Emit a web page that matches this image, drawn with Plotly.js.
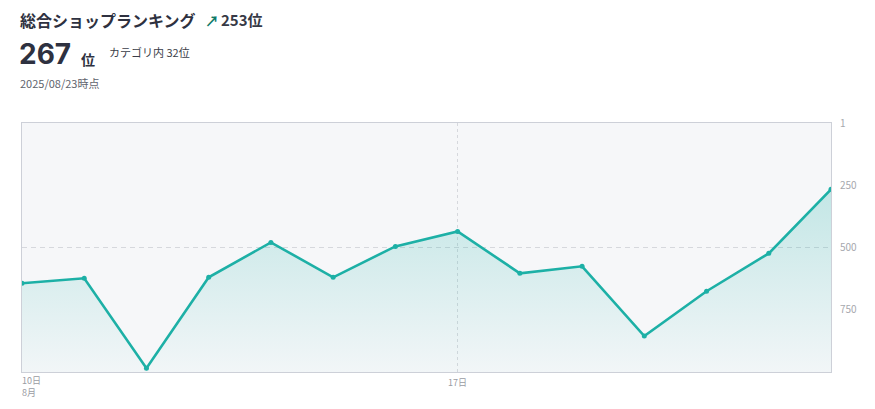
<!DOCTYPE html>
<html>
<head>
<meta charset="utf-8">
<script src="https://cdn.plot.ly/plotly-3.0.1.min.js"></script>
<style>
  html, body { margin: 0; padding: 0; background: #ffffff; }
  #chart { width: 875px; height: 409px; }
</style>
</head>
<body>
<div id="chart"></div>
<script>
// ---- data ----
const dates = ['2025-08-10','2025-08-11','2025-08-12','2025-08-13','2025-08-14','2025-08-15','2025-08-16',
               '2025-08-17','2025-08-18','2025-08-19','2025-08-20','2025-08-21','2025-08-22','2025-08-23'];
const ranks = [644, 624, 985, 620, 480, 620, 496, 436, 604, 576, 856, 676, 524, 267];
const yTickVals = [1, 250, 500, 750];
const yTickText = ['1', '250', '500', '750'];
const xMainTickVals = ['2025-08-17'];
const xMainTickText = ['17日'];
const xFirstTickVals = ['2025-08-10'];
const xFirstTickText = ['10日<br>8月'];
const yGridVals = [500];
const titleText = '総合ショップランキング';
const changeText = '253位';
const currentRank = '267';
const categoryText = 'カテゴリ内 32位';
const asOfText = '2025/08/23時点';
const AXIS_BOTTOM = 1000;
const AXIS_TOP = 1;

const baseline = dates.map(() => AXIS_BOTTOM);
const teal = '#1db0a6';
const font = 'Noto Sans CJK JP, Noto Sans, sans-serif';

const traces = [
  { x: dates, y: baseline, type: 'scatter', mode: 'lines', line: { width: 0, color: 'rgba(0,0,0,0)' },
    hoverinfo: 'skip', showlegend: false },
  { x: dates, y: ranks, type: 'scatter', mode: 'lines+markers', fill: 'tonexty',
    fillgradient: { type: 'vertical', start: AXIS_BOTTOM, stop: 250,
      colorscale: [[0, 'rgba(29,176,166,0.02)'], [1, 'rgba(29,176,166,0.24)']] },
    line: { color: teal, width: 2.6 }, marker: { color: teal, size: 5 }, showlegend: false },
  // overlay axes only for the dashed horizontal gridline and first x label
  { x: dates, y: ranks, xaxis: 'x2', yaxis: 'y2', type: 'scatter', mode: 'none', hoverinfo: 'skip', showlegend: false }
];

const px = v => (v - 22) / 809;      // pixel -> paper x
const py = v => (372 - v) / 249;     // pixel -> paper y

const layout = {
  width: 875, height: 409,
  margin: { l: 22, r: 44, t: 123, b: 37 },
  paper_bgcolor: '#ffffff',
  plot_bgcolor: '#f6f7f9',
  font: { family: font, color: '#333' },
  showlegend: false,
  xaxis: {
    type: 'date', range: [dates[0], dates[dates.length - 1]],
    tickmode: 'array', tickvals: xMainTickVals, ticktext: xMainTickText,
    showgrid: true, gridcolor: '#d6d8dd', griddash: '3px,3px', gridwidth: 1,
    zeroline: false, showline: true, linecolor: '#cdd0d8', linewidth: 1, mirror: true,
    ticks: '', ticklabelstandoff: 2, tickfont: { size: 9, color: '#9a9ca3', family: font }
  },
  xaxis2: {
    type: 'date', range: [dates[0], dates[dates.length - 1]], overlaying: 'x', anchor: 'y',
    tickmode: 'array', tickvals: xFirstTickVals, ticktext: xFirstTickText,
    ticklabelposition: 'outside right', side: 'bottom', ticklabelstandoff: 2,
    showgrid: false, zeroline: false, showline: false, ticks: '',
    tickfont: { size: 9, color: '#9a9ca3', family: font }
  },
  yaxis: {
    range: [AXIS_BOTTOM, AXIS_TOP], side: 'right',
    tickmode: 'array', tickvals: yTickVals, ticktext: yTickText,
    showgrid: false, zeroline: false, showline: true, linecolor: '#cdd0d8', linewidth: 1, mirror: true,
    ticks: '', ticklabelstandoff: 6, tickfont: { size: 10, color: '#a6a8ae', family: font }
  },
  yaxis2: {
    range: [AXIS_BOTTOM, AXIS_TOP], overlaying: 'y', side: 'right', anchor: 'x',
    tickmode: 'array', tickvals: yGridVals, showticklabels: false,
    showgrid: true, gridcolor: '#d6d8dd', griddash: '5px,4px', gridwidth: 1.3, zeroline: false
  },
  annotations: [
    { text: '<b>' + titleText + '</b>', xref: 'paper', yref: 'paper', x: px(18), y: py(20),
      xanchor: 'left', yanchor: 'middle', showarrow: false, font: { size: 16, color: '#2e3140', family: font } },
    { text: '<b>↗</b>', xref: 'paper', yref: 'paper', x: px(203), y: py(20),
      xanchor: 'left', yanchor: 'middle', showarrow: false, font: { size: 14, color: '#0f7a68', family: font } },
    { text: '<b>' + changeText + '</b>', xref: 'paper', yref: 'paper', x: px(219), y: py(20),
      xanchor: 'left', yanchor: 'middle', showarrow: false, font: { size: 15, color: '#363946', family: font } },
    { text: '<b>' + currentRank + '</b>', xref: 'paper', yref: 'paper', x: px(17), y: py(54),
      xanchor: 'left', yanchor: 'middle', showarrow: false, font: { size: 28, color: '#2e3140', family: 'Inter, Noto Sans, sans-serif' } },
    { text: '<b>位</b>', xref: 'paper', yref: 'paper', x: px(79), y: py(59),
      xanchor: 'left', yanchor: 'middle', showarrow: false, font: { size: 14, color: '#2e3140', family: font } },
    { text: categoryText, xref: 'paper', yref: 'paper', x: px(107), y: py(52),
      xanchor: 'left', yanchor: 'middle', showarrow: false, font: { size: 11, color: '#3a3d48', family: font } },
    { text: asOfText, xref: 'paper', yref: 'paper', x: px(18), y: py(83),
      xanchor: 'left', yanchor: 'middle', showarrow: false, font: { size: 11, color: '#60636c', family: font } }
  ]
};

Plotly.newPlot('chart', traces, layout, { displayModeBar: false, staticPlot: true });
</script>
</body>
</html>
